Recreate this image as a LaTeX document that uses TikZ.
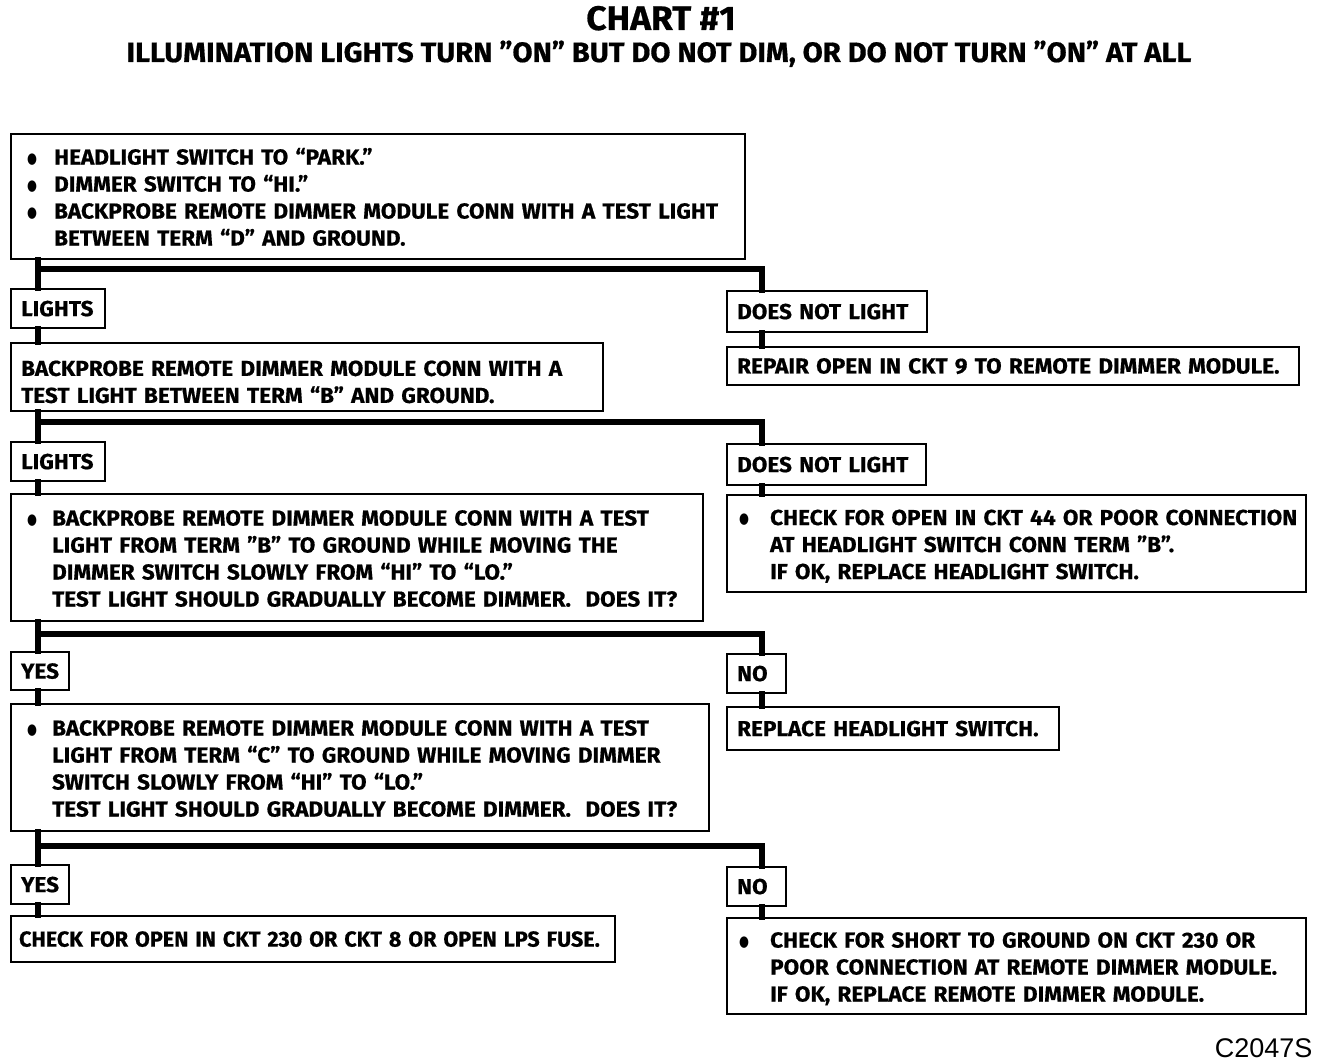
\documentclass[tikz,border=0pt]{standalone}
\usepackage{fontspec}
\setmainfont{Fira Sans}[FakeStretch=1.04, BoldFeatures={FakeBold=0.6}]
\newfontfamily\codefont{Liberation Sans}
\newfontfamily\symfont{DejaVu Sans}
\newcommand\bul{\raisebox{1.5pt}{\scalebox{0.95}[1.25]{\symfont\fontsize{12}{12}\selectfont ●}}}
\newcommand\tup{\rule{0pt}{25pt}}
\begin{document}
\begin{tikzpicture}[x=1pt,y=-1pt,
  box/.style={draw, line width=2.2pt, anchor=north west, inner ysep=0pt, inner xsep=10pt, align=left,
     font=\fontsize{21.7}{27}\selectfont\bfseries},
  conn/.style={line width=5.5pt, line cap=rect},
]
\useasboundingbox (0,0) rectangle (1328,1064);
\node[anchor=base, font=\fontsize{34}{36}\selectfont\bfseries] (title) at (661,30) {CHART \#1};
\node[anchor=base, font=\fontsize{28}{30}\selectfont\bfseries] (sub) at (659,62) {ILLUMINATION LIGHTS TURN ”ON” BUT DO NOT DIM, OR DO NOT TURN ”ON” AT ALL};

% level 1
\node[box, minimum width=734, minimum height=125, text width=714] (b1) at (10,133) {%
\begin{tabular}{@{\hspace{6pt}}p{27pt}@{}l@{}}
\tup\bul & HEADLIGHT SWITCH TO “PARK.”\\
\bul & DIMMER SWITCH TO “HI.”\\
\bul & BACKPROBE REMOTE DIMMER MODULE CONN WITH A TEST LIGHT\\
 & BETWEEN TERM “D” AND GROUND.
\end{tabular}};
\node[box, minimum width=94, minimum height=39, text width=74] (l1) at (10,288) {\mbox{LIGHTS}};
\node[box, minimum width=200, minimum height=41, text width=180] (r1) at (726,290) {\mbox{DOES NOT LIGHT}};
\node[box, minimum width=592, minimum height=68, text width=572] (b2) at (10,342) {%
\tup BACKPROBE REMOTE DIMMER MODULE CONN WITH A\\TEST LIGHT BETWEEN TERM “B” AND GROUND.};
\node[box, minimum width=572, minimum height=38, text width=552] (rb1) at (726,346) {\mbox{REPAIR OPEN IN CKT 9 TO REMOTE DIMMER MODULE.}};

% level 2
\node[box, minimum width=94, minimum height=39, text width=74] (l2) at (10,441) {\mbox{LIGHTS}};
\node[box, minimum width=199, minimum height=41, text width=179] (r2) at (726,443) {\mbox{DOES NOT LIGHT}};
\node[box, minimum width=692, minimum height=127, text width=672] (b3) at (10,493) {%
\begin{tabular}{@{\hspace{6pt}}p{25pt}@{}l@{}}
\tup\bul & BACKPROBE REMOTE DIMMER MODULE CONN WITH A TEST\\
 & LIGHT FROM TERM ”B” TO GROUND WHILE MOVING THE\\
 & DIMMER SWITCH SLOWLY FROM “HI” TO “LO.”\\
 & TEST LIGHT SHOULD GRADUALLY BECOME DIMMER.\ \ DOES IT?
\end{tabular}};
\node[box, minimum width=579, minimum height=97, text width=559] (rb2) at (726,494) {%
\begin{tabular}{@{\hspace{2pt}}p{31pt}@{}l@{}}
\tup\bul & CHECK FOR OPEN IN CKT 44 OR POOR CONNECTION\\
 & AT HEADLIGHT SWITCH CONN TERM ”B”.\\
 & IF OK, REPLACE HEADLIGHT SWITCH.
\end{tabular}};

% level 3
\node[box, minimum width=58, minimum height=38, text width=38] (l3) at (10,651) {\mbox{YES}};
\node[box, minimum width=59, minimum height=39, text width=39] (r3) at (726,653) {\mbox{NO}};
\node[box, minimum width=698, minimum height=127, text width=678] (b4) at (10,703) {%
\begin{tabular}{@{\hspace{6pt}}p{25pt}@{}l@{}}
\tup\bul & BACKPROBE REMOTE DIMMER MODULE CONN WITH A TEST\\
 & LIGHT FROM TERM “C” TO GROUND WHILE MOVING DIMMER\\
 & SWITCH SLOWLY FROM “HI” TO “LO.”\\
 & TEST LIGHT SHOULD GRADUALLY BECOME DIMMER.\ \ DOES IT?
\end{tabular}};
\node[box, minimum width=332, minimum height=43, text width=312] (rb3) at (726,706) {\mbox{REPLACE HEADLIGHT SWITCH.}};

% level 4
\node[box, minimum width=58, minimum height=39, text width=38] (l4) at (10,864) {\mbox{YES}};
\node[box, minimum width=59, minimum height=39, text width=39] (r4) at (726,866) {\mbox{NO}};
\node[box, inner xsep=8pt, minimum width=604, minimum height=46, text width=588] (b5) at (10,915) {\scalebox{0.955}[1]{CHECK FOR OPEN IN CKT 230 OR CKT 8 OR OPEN LPS FUSE.}};
\node[box, minimum width=579, minimum height=96, text width=559] (rb4) at (726,917) {%
\begin{tabular}{@{\hspace{2pt}}p{31pt}@{}l@{}}
\tup\bul & CHECK FOR SHORT TO GROUND ON CKT 230 OR\\
 & POOR CONNECTION AT REMOTE DIMMER MODULE.\\
 & IF OK, REPLACE REMOTE DIMMER MODULE.
\end{tabular}};

\node[anchor=base east, font=\fontsize{27}{28}\selectfont\codefont] (code) at (1316,1057) {C2047S};

% connectors
\coordinate (j1) at (38,269); \coordinate (k1) at (762,269);
\coordinate (j2) at (38,422); \coordinate (k2) at (762,422);
\coordinate (j3) at (38,634); \coordinate (k3) at (762,634);
\coordinate (j4) at (38,846); \coordinate (k4) at (762,846);

\draw[conn] (b1.south -| j1) -- (l1.north -| j1);
\draw[conn] (j1) -- (k1) -- (r1.north -| k1);
\draw[conn] (l1.south -| j1) -- (b2.north -| j1);
\draw[conn] (r1.south -| k1) -- (rb1.north -| k1);

\draw[conn] (b2.south -| j2) -- (l2.north -| j2);
\draw[conn] (j2) -- (k2) -- (r2.north -| k2);
\draw[conn] (l2.south -| j2) -- (b3.north -| j2);
\draw[conn] (r2.south -| k2) -- (rb2.north -| k2);

\draw[conn] (b3.south -| j3) -- (l3.north -| j3);
\draw[conn] (j3) -- (k3) -- (r3.north -| k3);
\draw[conn] (l3.south -| j3) -- (b4.north -| j3);
\draw[conn] (r3.south -| k3) -- (rb3.north -| k3);

\draw[conn] (b4.south -| j4) -- (l4.north -| j4);
\draw[conn] (j4) -- (k4) -- (r4.north -| k4);
\draw[conn] (l4.south -| j4) -- (b5.north -| j4);
\draw[conn] (r4.south -| k4) -- (rb4.north -| k4);
\end{tikzpicture}
\end{document}
